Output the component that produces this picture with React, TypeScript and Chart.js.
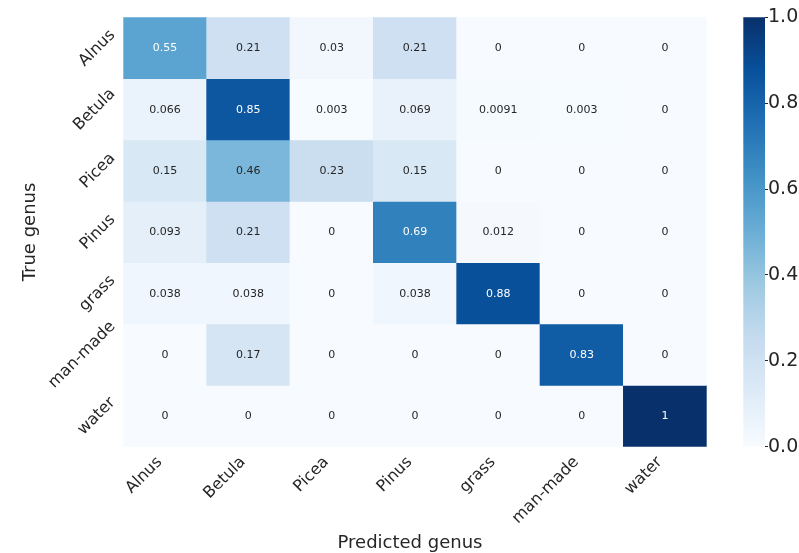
import React, { useEffect, useRef } from "react";
import { Chart, registerables } from "chart.js";

Chart.register(...registerables);

// ---------- data ----------
const predictedLabels = ["Alnus", "Betula", "Picea", "Pinus", "grass", "man-made", "water"];
const trueLabels = ["Alnus", "Betula", "Picea", "Pinus", "grass", "man-made", "water"];

const rowAlnus = [0.55, 0.21, 0.03, 0.21, 0, 0, 0];
const rowBetula = [0.066, 0.85, 0.003, 0.069, 0.0091, 0.003, 0];
const rowPicea = [0.15, 0.46, 0.23, 0.15, 0, 0, 0];
const rowPinus = [0.093, 0.21, 0, 0.69, 0.012, 0, 0];
const rowGrass = [0.038, 0.038, 0, 0.038, 0.88, 0, 0];
const rowManMade = [0, 0.17, 0, 0, 0, 0.83, 0];
const rowWater = [0, 0, 0, 0, 0, 0, 1];
const matrix = [rowAlnus, rowBetula, rowPicea, rowPinus, rowGrass, rowManMade, rowWater];

const colorbarMin = 0;
const colorbarMax = 1;
const colorbarStep = 0.2;

const xTitle = "Predicted genus";
const yTitle = "True genus";

// ---------- layout / style ----------
const W = 799;
const H = 553;
const AREA = { left: 123.3, right: 706.7, top: 17.3, bottom: 446.7 };
const CB = { left: 743.3, right: 765 };
const FONT = '"DejaVu Sans", sans-serif';
const TEXT_DARK = "#262626";

const BLUES = [
  [247, 251, 255],
  [222, 235, 247],
  [198, 219, 239],
  [158, 202, 225],
  [107, 174, 214],
  [66, 146, 198],
  [33, 113, 181],
  [8, 81, 156],
  [8, 48, 107],
];

function bluesRGB(v: number): number[] {
  const t = Math.min(1, Math.max(0, (v - colorbarMin) / (colorbarMax - colorbarMin)));
  const p = t * (BLUES.length - 1);
  const i = Math.min(BLUES.length - 2, Math.floor(p));
  const f = p - i;
  const a = BLUES[i];
  const b = BLUES[i + 1];
  return [0, 1, 2].map((k) => a[k] + (b[k] - a[k]) * f);
}
function blues(v: number): string {
  const c = bluesRGB(v);
  return `rgb(${c[0].toFixed(0)},${c[1].toFixed(0)},${c[2].toFixed(0)})`;
}
function luminance(c: number[]): number {
  const lin = c.map((x) => {
    const s = x / 255;
    return s <= 0.03928 ? s / 12.92 : Math.pow((s + 0.055) / 1.055, 2.4);
  });
  return 0.2126 * lin[0] + 0.7152 * lin[1] + 0.0722 * lin[2];
}
function fmt(v: number): string {
  return String(parseFloat(v.toPrecision(2)));
}

const SQ = Math.SQRT1_2;

const textPlugin = {
  id: "heatText",
  afterDraw(chart: any) {
    const ctx = chart.ctx as CanvasRenderingContext2D;
    const xs = chart.scales.x;
    const ys = chart.scales.y;
    ctx.save();
    // cell annotations
    ctx.font = `11px ${FONT}`;
    ctx.textAlign = "center";
    ctx.textBaseline = "middle";
    matrix.forEach((row, i) => {
      row.forEach((v, j) => {
        const x = xs.getPixelForValue(j);
        const y = ys.getPixelForValue(i + 0.5);
        ctx.fillStyle = luminance(bluesRGB(v)) > 0.408 ? TEXT_DARK : "#ffffff";
        ctx.fillText(fmt(v), x, y + 0.5);
      });
    });

    // tick labels (rotated 45°, matplotlib-like alignment)
    const fs = 16;
    const h = 0.968 * fs;
    const desc = 0.208 * fs;
    ctx.font = `${fs}px ${FONT}`;
    ctx.fillStyle = TEXT_DARK;
    ctx.textAlign = "right";
    ctx.textBaseline = "alphabetic";
    predictedLabels.forEach((lab, j) => {
      const X = xs.getPixelForValue(j);
      const Y = chart.chartArea.bottom + 7.3;
      ctx.save();
      ctx.translate(X, Y + SQ * h);
      ctx.rotate(-Math.PI / 4);
      ctx.fillText(lab, 0, -desc);
      ctx.restore();
    });
    trueLabels.forEach((lab, i) => {
      const X = chart.chartArea.left - 5.3;
      const Y = ys.getPixelForValue(i + 0.5);
      const w = ctx.measureText(lab).width;
      ctx.save();
      ctx.translate(X, Y + 0.5 * SQ * (h - w));
      ctx.rotate(-Math.PI / 4);
      ctx.fillText(lab, 0, -desc);
      ctx.restore();
    });

    // axis titles
    ctx.font = `18px ${FONT}`;
    ctx.textAlign = "center";
    ctx.textBaseline = "alphabetic";
    ctx.fillText(xTitle, (chart.chartArea.left + chart.chartArea.right) / 2 - 5, 548.3);
    ctx.save();
    ctx.translate(34.8, (chart.chartArea.top + chart.chartArea.bottom) / 2);
    ctx.rotate(-Math.PI / 2);
    ctx.fillText(yTitle, 0, 0);
    ctx.restore();
    ctx.restore();
  },
};

export default function App() {
  const mainRef = useRef<HTMLCanvasElement | null>(null);
  const cbRef = useRef<HTMLCanvasElement | null>(null);

  useEffect(() => {
    if (!mainRef.current || !cbRef.current) return;
    const main = new Chart(mainRef.current, {
      type: "bar",
      data: {
        labels: predictedLabels,
        datasets: matrix.map((row, i) => ({
          label: trueLabels[i],
          data: row.map(() => [i, i + 1]),
          backgroundColor: row.map((v) => blues(v)),
          borderWidth: 0,
          barPercentage: 1,
          categoryPercentage: 1,
          grouped: false,
        })),
      } as any,
      options: {
        responsive: false,
        animation: false,
        events: [],
        layout: { padding: { left: 0, top: AREA.top, right: W - AREA.right, bottom: 0 } },
        plugins: { legend: { display: false }, tooltip: { enabled: false } },
        scales: {
          x: {
            type: "category",
            grid: { display: false },
            border: { display: false },
            ticks: { display: false },
            afterFit: (s: any) => {
              s.height = H - AREA.bottom;
            },
          },
          y: {
            type: "linear",
            min: 0,
            max: trueLabels.length,
            reverse: true,
            grid: { display: false },
            border: { display: false },
            ticks: { display: false },
            afterFit: (s: any) => {
              s.width = AREA.left;
            },
          },
        },
      } as any,
      plugins: [textPlugin],
    });

    const cb = new Chart(cbRef.current, {
      type: "bar",
      data: {
        labels: [""],
        datasets: [
          {
            data: [[colorbarMin, colorbarMax]],
            backgroundColor: (c: any) => {
              const chart = c.chart;
              const area = chart.chartArea;
              const ys = chart.scales.y;
              if (!area || !ys) return blues(0.5);
              const g = chart.ctx.createLinearGradient(0, ys.getPixelForValue(colorbarMin), 0, ys.getPixelForValue(colorbarMax));
              BLUES.forEach((c3, k) => {
                g.addColorStop(k / (BLUES.length - 1), `rgb(${c3[0]},${c3[1]},${c3[2]})`);
              });
              return g;
            },
            borderWidth: 0,
            barPercentage: 1,
            categoryPercentage: 1,
          },
        ],
      } as any,
      options: {
        responsive: false,
        animation: false,
        events: [],
        layout: { padding: { left: CB.left, top: AREA.top, right: 0, bottom: H - AREA.bottom } },
        plugins: { legend: { display: false }, tooltip: { enabled: false } },
        scales: {
          x: { display: false },
          y: {
            position: "right",
            min: colorbarMin,
            max: colorbarMax,
            grid: {
              display: true,
              drawOnChartArea: false,
              drawTicks: true,
              tickLength: 3,
              tickColor: TEXT_DARK,
              tickWidth: 1,
            },
            border: { display: false },
            ticks: {
              stepSize: colorbarStep,
              padding: 0,
              color: TEXT_DARK,
              font: { family: FONT, size: 19 },
              callback: (v: any) => Number(v).toFixed(1),
            },
            afterFit: (s: any) => {
              s.width = W - CB.right;
            },
          },
        },
      } as any,
    });

    return () => {
      main.destroy();
      cb.destroy();
    };
  }, []);

  return (
    <div style={{ position: "absolute", left: 0, top: 0, width: W, height: H, background: "#ffffff" }}>
      <canvas ref={mainRef} width={W} height={H} style={{ position: "absolute", left: 0, top: 0, width: W, height: H }} />
      <canvas ref={cbRef} width={W} height={H} style={{ position: "absolute", left: 0, top: 0, width: W, height: H, pointerEvents: "none" }} />
    </div>
  );
}
